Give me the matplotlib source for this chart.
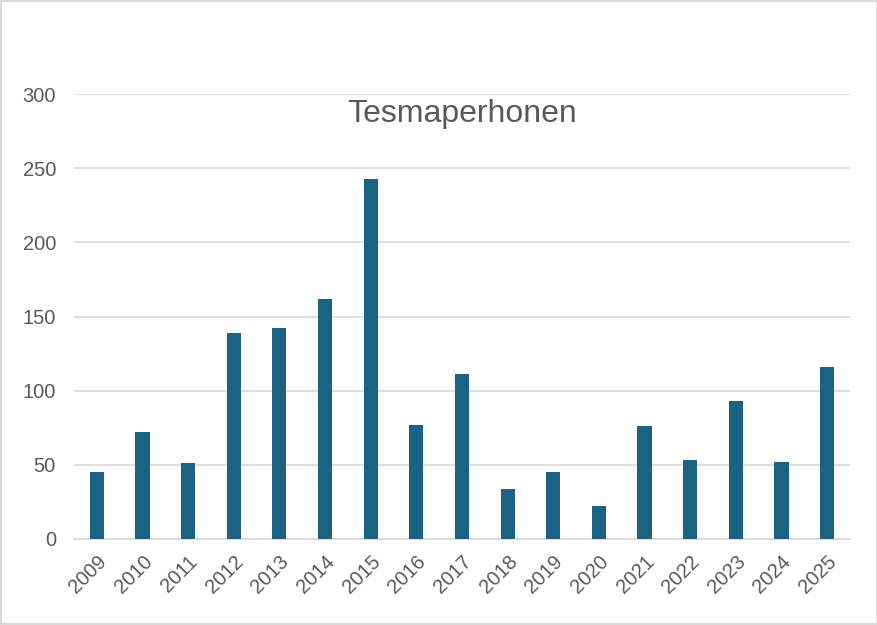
import matplotlib.pyplot as plt
import numpy as np

years = [str(y) for y in range(2009, 2026)]
counts = [45, 72, 51, 139, 142, 162, 243, 77, 111, 34, 45, 22, 76, 53, 93, 52, 116]
title = "Tesmaperhonen"

plt.rcParams['font.family'] = ['Liberation Sans', 'DejaVu Sans']

fig = plt.figure(figsize=(8.78, 6.25), dpi=100)
ax = fig.add_axes([0.0843, 0.1376, 0.8837, 0.712])

x = np.arange(len(years))
ax.bar(x, counts, width=0.31, color='#1b6283', zorder=3)

ax.set_xlim(-0.5, len(years) - 0.5)
ax.set_ylim(0, 300)
ax.set_yticks(range(0, 301, 50))
ax.set_xticks(x)
ax.set_xticklabels(years, rotation=45, ha='right', rotation_mode='anchor')
ax.tick_params(axis='both', length=0, labelsize=14.5, labelcolor='#595959')
ax.tick_params(axis='y', pad=13)
ax.tick_params(axis='x', pad=9)
ax.grid(axis='y', color='#d9d9d9', linewidth=1.2, zorder=0)
for side in ['top', 'right', 'left']:
    ax.spines[side].set_visible(False)
ax.spines['bottom'].set_color('#d9d9d9')
ax.spines['bottom'].set_linewidth(1.2)

ax.text(0.5, 0.955, title, transform=ax.transAxes, ha='center', va='center',
        fontsize=23, color='#595959')

# thin grey frame round the whole picture
fig.patches.append(plt.Rectangle((0.001, 0.001), 0.998, 0.998, transform=fig.transFigure,
                                 fill=False, edgecolor='#d9d9d9', linewidth=1.5))

fig.savefig('out.png', dpi=100)
